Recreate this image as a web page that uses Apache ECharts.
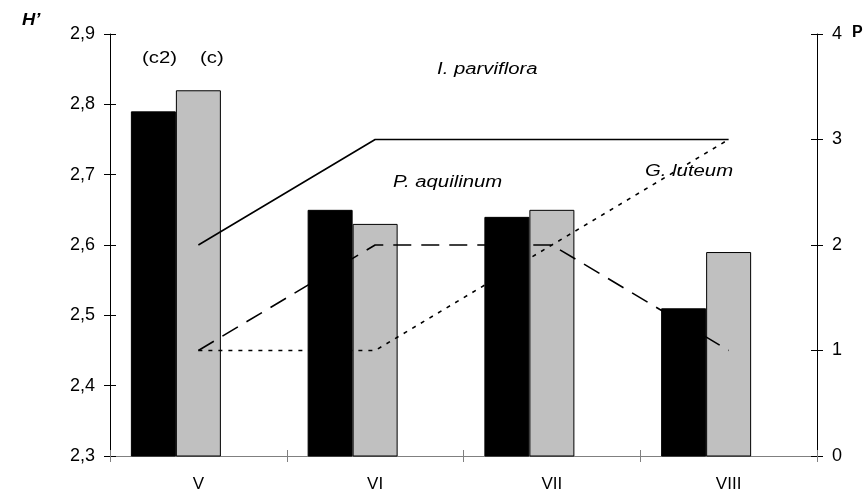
<!DOCTYPE html>
<html>
<head>
<meta charset="utf-8">
<script src="https://cdn.jsdelivr.net/npm/echarts@6/dist/echarts.min.js"></script>
<style>
  html, body { margin: 0; padding: 0; background: #fff; }
  #graph { width: 865px; height: 496px; }
</style>
</head>
<body>
<div id="graph"></div>
<script>
"use strict"

const months = ["V", "VI", "VII", "VIII"];
// H' per month, two variants
const hC2 = [2.79, 2.65, 2.64, 2.51];
const hC = [2.82, 2.63, 2.65, 2.59];
// P per month for each species
const pParviflora = [2, 3, 3, 3];
const pAquilinum = [1, 2, 2, 1];
const pLuteum = [1, 1, 2, 3];
const spacer = [null, null, null, null];

const font = "Liberation Sans, Arial, sans-serif";

const lineOf = (name, data, type) => ({
    name: name,
    type: "line",
    yAxisIndex: 1,
    data: data,
    symbol: "none",
    silent: true,
    z: 5,
    lineStyle: { color: "#000", width: 1.6, type: type }
});

const barOf = (name, data, color) => ({
    name: name,
    type: "bar",
    data: data,
    barWidth: 45,
    barGap: "0%",
    itemStyle: { color: color, borderColor: "#000", borderWidth: 1 }
});

// second copy of an axis, only to draw the inner half of crossing ticks
const innerTicks = (base, color) => Object.assign({}, base, {
    axisLine: { show: false },
    axisLabel: { show: false },
    axisTick: { show: true, inside: true, length: 6, lineStyle: { color: color } },
    splitLine: { show: false }
});

const leftAxis = {
    type: "value", min: 2.3, max: 2.9, interval: 0.1, position: "left",
    axisLine: { show: true, lineStyle: { color: "#000" } },
    axisTick: { show: true, length: 6, lineStyle: { color: "#000" } },
    axisLabel: { color: "#000", fontSize: 18, margin: 15, formatter: v => v.toFixed(1).replace(".", ",") },
    splitLine: { show: false }
};
const rightAxis = {
    type: "value", min: 0, max: 4, interval: 1, position: "right",
    axisLine: { show: true, lineStyle: { color: "#000" } },
    axisTick: { show: true, length: 6, lineStyle: { color: "#000" } },
    axisLabel: { color: "#000", fontSize: 18, margin: 15 },
    splitLine: { show: false }
};
const bottomAxis = {
    type: "category", data: months, position: "bottom",
    axisLine: { lineStyle: { color: "#808080", width: 1 } },
    axisTick: { show: true, length: 6, lineStyle: { color: "#808080" } },
    axisLabel: { color: "#000", fontSize: 17, margin: 20 },
    splitLine: { show: false }
};

const text = (str, left, top, style, sx) => ({
    type: "text", left: left, top: top, scaleX: sx,
    style: { text: str, font: style + " 16px " + font, fill: "#000" }
});

const option = {
    animation: false,
    textStyle: { fontFamily: font },
    grid: { left: 110, right: 48, top: 34, bottom: 40 },
    xAxis: [bottomAxis, innerTicks(bottomAxis, "#808080")],
    yAxis: [leftAxis, rightAxis, innerTicks(leftAxis, "#000"), innerTicks(rightAxis, "#000")],
    series: [
        barOf("c2", hC2, "#000"),
        barOf("c", hC, "#c0c0c0"),
        { name: "spacer", type: "bar", data: spacer, barWidth: 45, barGap: "0%" },
        lineOf("I. parviflora", pParviflora, "solid"),
        lineOf("P. aquilinum", pAquilinum, [18, 10]),
        lineOf("G. luteum", pLuteum, [4, 6])
    ],
    graphic: [
        text("H’", 22, 13, "italic bold", 1.15),
        text("P", 852, 25, "bold", 1),
        text("(c2)", 142, 51, "normal", 1.27),
        text("(c)", 200, 51, "normal", 1.27),
        text("I. parviflora", 437, 62, "italic", 1.27),
        text("P. aquilinum", 393, 175, "italic", 1.27),
        text("G. luteum", 645, 164, "italic", 1.27)
    ]
};

const myChart = echarts.init(document.getElementById("graph"), null, { renderer: "canvas" });
myChart.setOption(option);
</script>
</body>
</html>
